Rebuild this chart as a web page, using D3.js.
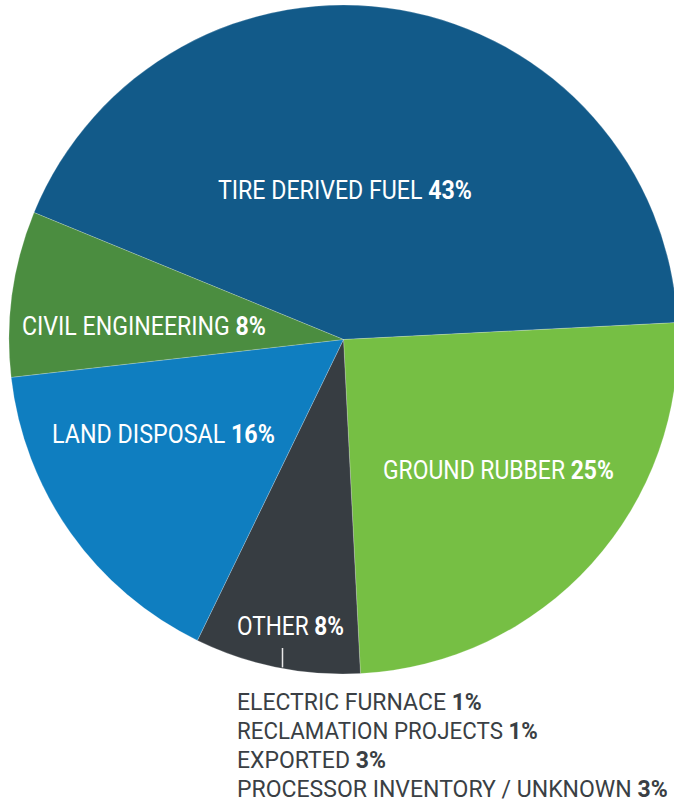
<!DOCTYPE html>
<html>
<head>
<meta charset="utf-8">
<script src="https://cdn.jsdelivr.net/npm/d3@7"></script>
<style>
  html, body { margin: 0; padding: 0; background: #ffffff; }
  svg { display: block; }
  text { font-family: Roboto, "Noto Sans", sans-serif; }
</style>
</head>
<body>
<svg id="chart" width="674" height="803"></svg>
<script>
// ---- data ----
const categories = ["TIRE DERIVED FUEL", "GROUND RUBBER", "OTHER", "LAND DISPOSAL", "CIVIL ENGINEERING"];
const shares = [43, 25, 8, 16, 8];
const otherBreakdownLabels = ["ELECTRIC FURNACE", "RECLAMATION PROJECTS", "EXPORTED", "PROCESSOR INVENTORY / UNKNOWN"];
const otherBreakdownValues = [1, 1, 3, 3];

// ---- styles / layout ----
const colors = ["#125a89", "#76bf44", "#373d42", "#0f7ec0", "#4b8d40"];
const cx = 343.5, cy = 339.5, radius = 334.5;
const startDeg = -67.7;
// label anchors: [x-left, baseline, target width, font size]
const labelLayout = [
  [218, 199, 254, 26],
  [383, 479, 231, 25],
  [237, 635, 107, 25],
  [52, 443, 223, 25],
  [22, 335, 244, 25]
];
const listLayout = { x: 237, y0: 710, dy: 28.9, size: 23.5, widths: [245, 301, 149, 431] };

const svg = d3.select("#chart");

const pie = d3.pie().sort(null).value(d => d)
  .startAngle(startDeg * Math.PI / 180)
  .endAngle((startDeg + 360) * Math.PI / 180);
const arcs = pie(shares);
const arc = d3.arc().innerRadius(0).outerRadius(radius);

const g = svg.append("g").attr("transform", `translate(${cx},${cy})`);
g.selectAll("path").data(arcs).join("path")
  .attr("d", arc)
  .attr("fill", (d, i) => colors[i])
  .attr("stroke", "rgba(255,255,255,0.35)")
  .attr("stroke-width", 0.6);

function fitText(sel, x, y, width) {
  const w = sel.node().getComputedTextLength();
  sel.attr("transform", `translate(${x},${y}) scale(${width / w},1)`);
}

// slice labels
arcs.forEach((a, i) => {
  const [x, y, w, fs] = labelLayout[i];
  const t = svg.append("text")
    .attr("fill", "#ffffff")
    .attr("font-size", fs)
    .attr("x", 0).attr("y", 0);
  t.append("tspan").attr("font-weight", 400).text(categories[i] + " ");
  t.append("tspan").attr("font-weight", 700).text(shares[i] + "%");
  fitText(t, x, y, w);
});

// leader tick from OTHER label to the pie edge
const tickX = 282.5;
const dxT = tickX - cx;
const yEdge = cy + Math.sqrt(radius * radius - dxT * dxT);
svg.append("line")
  .attr("x1", tickX).attr("x2", tickX)
  .attr("y1", 648).attr("y2", yEdge - 1)
  .attr("stroke", "#e8e8e8").attr("stroke-width", 1.5);

// breakdown list
otherBreakdownLabels.forEach((lab, i) => {
  const t = svg.append("text")
    .attr("fill", "#3a3f44")
    .attr("font-size", listLayout.size)
    .attr("x", 0).attr("y", 0);
  t.append("tspan").attr("font-weight", 400).text(lab + " ");
  t.append("tspan").attr("font-weight", 700).text(otherBreakdownValues[i] + "%");
  fitText(t, listLayout.x, listLayout.y0 + i * listLayout.dy, listLayout.widths[i]);
});
</script>
</body>
</html>
